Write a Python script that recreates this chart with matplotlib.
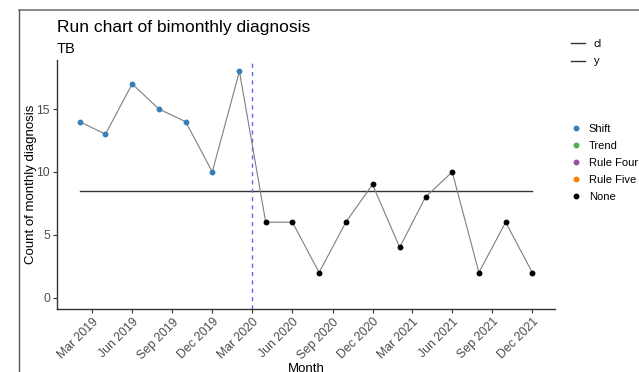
import numpy as np
import pandas as pd
import matplotlib
matplotlib.use('Agg')
import matplotlib.pyplot as plt
import matplotlib.dates as mdates
from matplotlib.lines import Line2D

plt.rcParams['font.family'] = ['Liberation Sans', 'DejaVu Sans']

# data: bimonthly counts
months = pd.date_range('2019-02-01', '2021-12-01', freq='2MS')
counts = [14, 13, 17, 15, 14, 10, 18, 6, 6, 2, 6, 9, 4, 8, 10, 2, 6, 2]
rule = ['Shift'] * 7 + ['None'] * 11
center_line = 8.5
phase_change = pd.Timestamp('2020-03-01')

tick_dates = pd.date_range('2019-03-01', '2021-12-01', freq='3MS')
tick_labels = [d.strftime('%b %Y') for d in tick_dates]

rule_names = ['Shift', 'Trend', 'Rule Four', 'Rule Five', 'None']
rule_colors = {'Shift': '#377EB8', 'Trend': '#4DAF4A', 'Rule Four': '#984EA3',
               'Rule Five': '#FF7F00', 'None': '#000000'}

fig = plt.figure(figsize=(6.39, 3.72), dpi=100)
ax = fig.add_axes([0.0892, 0.1694, 0.7793, 0.6693])

# run line
ax.plot(months, counts, color='#7f7f7f', lw=0.8, zorder=2)
# center line
ax.plot([months[0], months[-1]], [center_line, center_line], color='#333333', lw=1.0, zorder=1)
# points
for m, c, r in zip(months, counts, rule):
    ax.plot(m, c, 'o', color=rule_colors[r], ms=3.2, zorder=3)
# phase line
ax.axvline(phase_change, color='#6666ff', ls=(0, (3, 3)), lw=1.0, zorder=1)

span = months[-1] - months[0]
ax.set_xlim(months[0] - span * 0.05, months[-1] + span * 0.05)
ax.set_ylim(-0.9, 18.9)
ax.set_yticks([0, 5, 10, 15])
ax.set_xticks(tick_dates)
ax.set_xticklabels(tick_labels, rotation=45, ha='right', rotation_mode='anchor')

for s in ['top', 'right']:
    ax.spines[s].set_visible(False)
for s in ['left', 'bottom']:
    ax.spines[s].set_color('#333333')
    ax.spines[s].set_linewidth(1.0)
ax.tick_params(colors='#333333', labelcolor='#4d4d4d', labelsize=8.8, length=3, width=0.8, pad=2)

ax.set_ylabel('Count of monthly diagnosis', fontsize=9.5)
ax.yaxis.set_label_coords(-0.041, 0.5)
ax.set_xlabel('Month', fontsize=9.5, labelpad=1)

fig.text(0.0892, 0.915, 'Run chart of bimonthly diagnosis', fontsize=12.5, va='baseline')
fig.text(0.0892, 0.858, 'TB', fontsize=10.5, va='baseline')

# legends
line_handles = [Line2D([0], [0], color='#333333', lw=1.0),
                Line2D([0], [0], color='#333333', lw=1.0)]
leg1 = fig.legend(line_handles, ['cl', 'y'], loc='upper left',
                  bbox_to_anchor=(0.894, 0.896), frameon=False, fontsize=8,
                  handlelength=1.25, handletextpad=0.75, labelspacing=0.7,
                  borderaxespad=0, borderpad=0)
pt_handles = [Line2D([0], [0], marker='o', ls='', color=rule_colors[r], ms=3.2)
              for r in rule_names]
leg2 = fig.legend(pt_handles, rule_names, loc='upper left',
                  bbox_to_anchor=(0.893, 0.666), frameon=False, fontsize=8,
                  handlelength=1.0, handletextpad=0.65, labelspacing=0.62,
                  borderaxespad=0, borderpad=0)

# screenshot frame
fig.add_artist(Line2D([19 / 639, 1], [1 - 10 / 372, 1 - 10 / 372],
                      transform=fig.transFigure, color='#777777', lw=1.2))
fig.add_artist(Line2D([19 / 639, 19 / 639], [0, 1 - 10 / 372],
                      transform=fig.transFigure, color='#555555', lw=1.0))

fig.savefig('out.png', dpi=100)
